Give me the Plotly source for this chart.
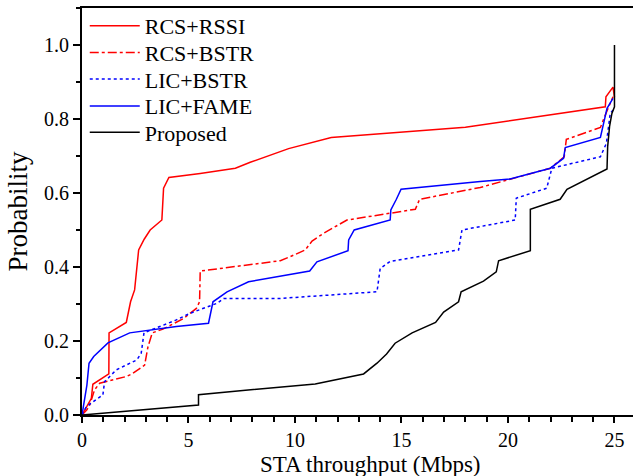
import plotly.graph_objects as go

# Data (CDF of STA throughput)
names = ["RCS+RSSI", "RCS+BSTR", "LIC+BSTR", "LIC+FAME", "Proposed"]

rssi_x = [0, 0.44, 0.51, 1.26, 1.27, 2.08, 2.28, 2.47, 2.66, 2.92, 3.2, 3.75, 3.83, 4.08, 5.55, 7.2, 7.9, 9.7, 11.7, 18.0, 24.57, 24.6, 24.93, 25.0]
rssi_y = [0, 0.045, 0.083, 0.111, 0.222, 0.25, 0.306, 0.338, 0.446, 0.475, 0.5, 0.527, 0.613, 0.642, 0.653, 0.667, 0.683, 0.72, 0.75, 0.778, 0.833, 0.86, 0.886, 0.86]

rbstr_x = [0, 0.23, 0.36, 0.59, 0.83, 2.08, 2.35, 2.94, 3.1, 3.3, 3.8, 4.77, 5.37, 5.52, 5.55, 6.49, 9.31, 9.78, 10.48, 10.8, 11.34, 12.44, 15.65, 15.85, 18.7, 21.99, 22.64, 22.74, 24.34, 24.57, 24.93]
rbstr_y = [0, 0.014, 0.027, 0.068, 0.086, 0.104, 0.111, 0.135, 0.185, 0.222, 0.232, 0.261, 0.288, 0.306, 0.389, 0.396, 0.417, 0.428, 0.446, 0.47, 0.491, 0.527, 0.556, 0.583, 0.615, 0.667, 0.698, 0.745, 0.777, 0.811, 0.86]

lbstr_x = [0, 0.2, 0.67, 0.98, 1.06, 1.61, 2.58, 2.78, 2.91, 3.57, 4.43, 5.08, 6.34, 6.65, 9.31, 13.85, 14.0, 14.47, 17.68, 17.84, 18.7, 20.34, 20.39, 21.82, 22.06, 24.34, 24.62, 24.8, 24.93]
lbstr_y = [0, 0.022, 0.042, 0.054, 0.09, 0.122, 0.149, 0.167, 0.222, 0.237, 0.257, 0.275, 0.302, 0.315, 0.315, 0.333, 0.396, 0.415, 0.446, 0.5, 0.509, 0.527, 0.586, 0.613, 0.667, 0.698, 0.734, 0.815, 0.824]

fame_x = [0, 0.12, 0.23, 0.33, 0.55, 1.22, 2.24, 4.43, 5.94, 6.15, 6.81, 7.82, 9.78, 10.69, 11.03, 12.49, 12.52, 12.78, 14.47, 14.5, 14.76, 14.98, 18.7, 20.1, 21.99, 22.61, 22.69, 24.34, 24.65, 24.93]
fame_y = [0, 0.05, 0.081, 0.14, 0.158, 0.195, 0.222, 0.239, 0.248, 0.306, 0.333, 0.36, 0.381, 0.389, 0.414, 0.444, 0.473, 0.5, 0.527, 0.554, 0.583, 0.61, 0.631, 0.638, 0.667, 0.694, 0.723, 0.75, 0.829, 0.856]

prop_x = [0, 5.47, 5.47, 10.95, 13.22, 13.85, 14.3, 14.7, 15.5, 16.6, 16.98, 17.68, 17.8, 18.85, 19.45, 19.56, 21.05, 21.05, 22.45, 22.77, 24.65, 24.68, 24.77, 24.88, 25.0, 25.0]
prop_y = [0, 0.027, 0.055, 0.084, 0.111, 0.14, 0.165, 0.194, 0.222, 0.25, 0.278, 0.306, 0.333, 0.362, 0.387, 0.417, 0.444, 0.556, 0.583, 0.61, 0.665, 0.725, 0.78, 0.815, 0.833, 1.0]

x_ticks = [0, 5, 10, 15, 20, 25]
y_ticks = [0.0, 0.2, 0.4, 0.6, 0.8, 1.0]
y_tick_text = ["0.0", "0.2", "0.4", "0.6", "0.8", "1.0"]
x_title = "STA throughput (Mbps)"
y_title = "Probability"

series = [
    (rssi_x, rssi_y, "#ff0000", "solid"),
    (rbstr_x, rbstr_y, "#ff0000", "dashdot"),
    (lbstr_x, lbstr_y, "#0000ff", "dot"),
    (fame_x, fame_y, "#0000ff", "solid"),
    (prop_x, prop_y, "#000000", "solid"),
]

font_family = "Liberation Serif"
legend_ids = ["legend", "legend2", "legend3", "legend4", "legend5"]
legend_ypos = [0.956, 0.890, 0.825, 0.759, 0.694]

fig = go.Figure()
for name, (xs, ys, col, dash), lid in zip(names, series, legend_ids):
    fig.add_trace(go.Scatter(x=xs, y=ys, mode="lines", name=name, legend=lid,
                             line=dict(color=col, width=1.5, dash=dash)))

legend_layout = {}
for lid, ly in zip(legend_ids, legend_ypos):
    legend_layout[lid] = dict(x=0.005, y=ly, xanchor="left", yanchor="middle",
                              bgcolor="rgba(0,0,0,0)", font=dict(size=22, family=font_family),
                              itemwidth=50)

fig.update_layout(
    width=633, height=476,
    margin=dict(l=82, r=0, t=8, b=61),
    paper_bgcolor="white", plot_bgcolor="white",
    font=dict(family=font_family, size=20, color="black"),
    showlegend=True,
    **legend_layout,
)
fig.add_annotation(text=x_title, xref="paper", yref="paper", x=0.523, y=-0.155,
                   xanchor="center", yanchor="bottom", showarrow=False, borderpad=0,
                   font=dict(size=23, family=font_family, color="black"))
fig.update_xaxes(
    range=[0, 25.87], tickvals=x_ticks, ticktext=[str(v) for v in x_ticks],
    showgrid=False, zeroline=False,
    showline=True, linecolor="black", linewidth=2, mirror=True,
    ticks="outside", ticklen=6, tickwidth=1.5, tickcolor="black",
    minor=dict(ticks="outside", ticklen=5, tickwidth=1.5, tickcolor="black", dtick=1, tick0=0, showgrid=False),
    tickfont=dict(size=20, family=font_family),
)
fig.update_yaxes(
    range=[0, 1.1], tickvals=y_ticks, ticktext=y_tick_text,
    showgrid=False, zeroline=False,
    showline=True, linecolor="black", linewidth=2, mirror=False,
    ticks="outside", ticklen=7, tickwidth=1.5, tickcolor="black",
    minor=dict(ticks="outside", ticklen=4, tickwidth=1.5, tickcolor="black", dtick=0.1, tick0=0, showgrid=False),
    title=dict(text=y_title, font=dict(size=27, family=font_family), standoff=9),
    tickfont=dict(size=20, family=font_family),
)

fig.write_html("out.html")
